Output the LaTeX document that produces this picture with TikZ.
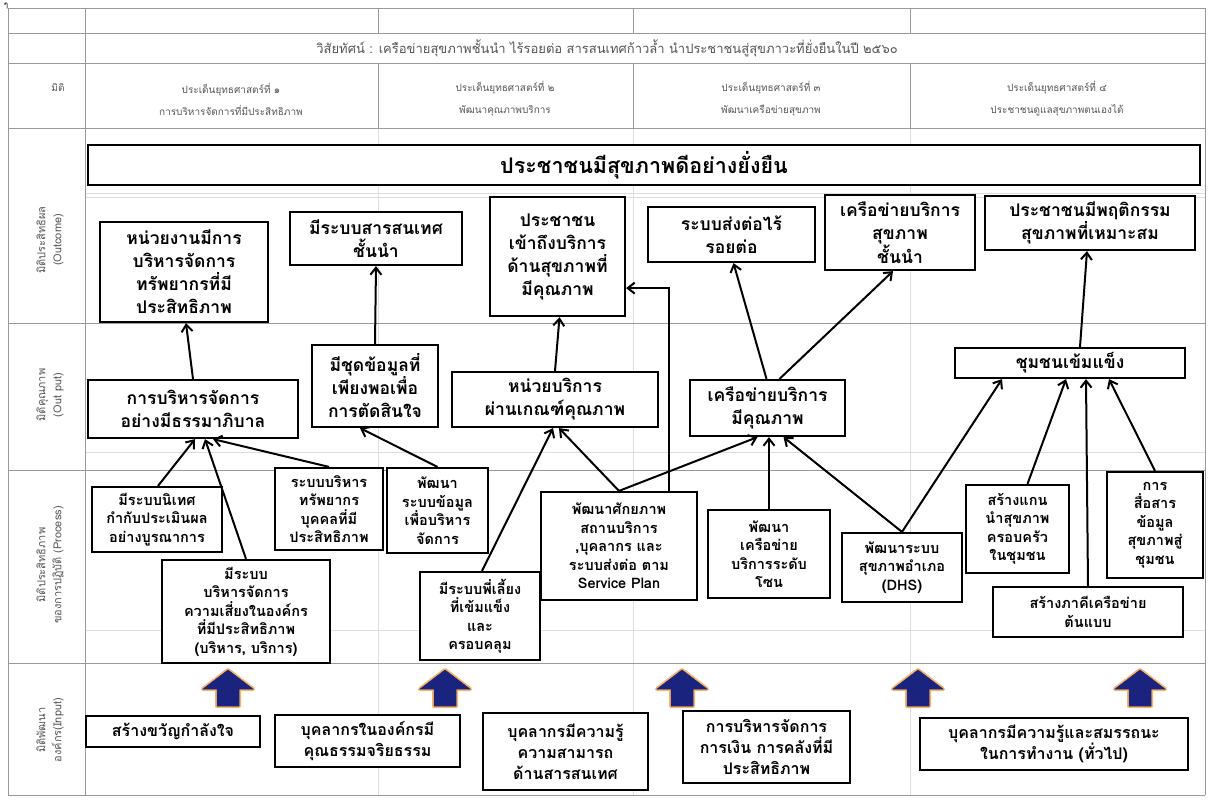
\documentclass[tikz,border=0pt]{standalone}
\usepackage{fontspec}
\newfontfamily\thai[Script=Thai]{Loma}
\usetikzlibrary{arrows.meta}
\definecolor{navy}{HTML}{1A237E}
\definecolor{gridc}{HTML}{9A9A9A}
\definecolor{faint}{HTML}{DDDDDD}
\definecolor{hdr}{HTML}{555555}
\definecolor{glow}{HTML}{F4A340}
\tikzset{
  box/.style={draw, line width=2.2pt, fill=white, align=center, inner sep=1pt, text=black},
  big/.style={box, font=\thai\bfseries\fontsize{17.5}{23}\selectfont},
  mid/.style={box, font=\thai\bfseries\fontsize{14.5}{18.5}\selectfont},
  inp/.style={box, font=\thai\bfseries\fontsize{16}{21}\selectfont},
  hdrtext/.style={align=center, text=hdr, font=\thai\fontsize{10}{22}\selectfont},
  rowlab/.style={align=center, text=hdr, rotate=90, font=\thai\fontsize{11}{16}\selectfont},
  grid/.style={draw=gridc, line width=0.9pt},
  fgrid/.style={draw=faint, line width=0.8pt},
  arr/.style={line width=2pt, -{Straight Barb[length=7pt,width=11pt,line width=2pt]}},
  blockup/.pic={
    \path[draw=glow, line width=4pt, line join=round, opacity=0.8]
      (-11,18) -- (-11,1) -- (-25,1) -- (0,-18) -- (25,1) -- (11,1) -- (11,18) -- cycle;
    \path[fill=navy, draw=navy, line width=0.5pt]
      (-11,18) -- (-11,1) -- (-25,1) -- (0,-18) -- (25,1) -- (11,1) -- (11,18) -- cycle;
  }
}
\begin{document}
\begin{tikzpicture}[x=1pt,y=-1pt]
\useasboundingbox (0,0) rectangle (1210,801);
\fill[white] (0,0) rectangle (1210,801);

% faint grid
\foreach \yy in {193,197,452,630} \draw[fgrid] (85,\yy) -- (1205,\yy);
\foreach \xx in {378,633,910} \draw[fgrid] (\xx,128) -- (\xx,795);
% main grid
\foreach \yy in {8,33,63,128,323,470,663,795} \draw[grid] (8,\yy) -- (1205,\yy);
\draw[grid] (8,8) -- (8,795);
\draw[grid] (85,8) -- (85,795);
\draw[grid] (1205,8) -- (1205,795);
\foreach \xx in {378,633,910} {\draw[grid] (\xx,8) -- (\xx,33); \draw[grid] (\xx,63) -- (\xx,128);}

\node[text=black, inner sep=0pt, font=\thai\fontsize{8}{8}\selectfont] (corner) at (6,6) {ๆ};

% header
\node[hdrtext, font=\thai\fontsize{13}{16}\selectfont] (vision) at (607,48) {วิสัยทัศน์ : เครือข่ายสุขภาพชั้นนำ ไร้รอยต่อ สารสนเทศก้าวล้ำ นำประชาชนสู่สุขภาวะที่ยั่งยืนในปี ๒๕๖๐};
\node[hdrtext] (miti) at (58,88) {มิติ};
\node[hdrtext] (h1) at (231,99) {ประเด็นยุทธศาสตร์ที่ ๑\\การบริหารจัดการที่มีประสิทธิภาพ};
\node[hdrtext] (h2) at (505,99) {ประเด็นยุทธศาสตร์ที่ ๒\\พัฒนาคุณภาพบริการ};
\node[hdrtext] (h3) at (771,99) {ประเด็นยุทธศาสตร์ที่ ๓\\พัฒนาเครือข่ายสุขภาพ};
\node[hdrtext] (h4) at (1057,99) {ประเด็นยุทธศาสตร์ที่ ๔\\ประชาชนดูแลสุขภาพตนเองได้};

% row labels
\node[rowlab] (r1) at (50,240) {มิติประสิทธิผล\\(Outcome)};
\node[rowlab] (r2) at (50,395) {มิติคุณภาพ\\(Out put)};
\node[rowlab] (r3) at (50,565) {มิติประสิทธิภาพ\\ของการปฏิบัติ (Process)};
\node[rowlab] (r4) at (50,730) {มิติพัฒนา\\องค์กร(Input)};

% top goal
\node[box, font=\thai\bfseries\fontsize{21.5}{24}\selectfont, minimum width=1112pt, minimum height=40pt] (goal) at (644,165) {ประชาชนมีสุขภาพดีอย่างยั่งยืน};

% outcome
\node[big, minimum width=168pt, minimum height=100pt] (o1) at (184,272) {หน่วยงานมีการ\\บริหารจัดการ\\ทรัพยากรที่มี\\ประสิทธิภาพ};
\node[big, minimum width=172pt, minimum height=53pt] (o2) at (376,238.5) {มีระบบสารสนเทศ\\ชั้นนำ};
\node[big, minimum width=135pt, minimum height=119pt, anchor=north] (o3) at (557.5,196) {ประชาชน\\เข้าถึงบริการ\\ด้านสุขภาพที่\\มีคุณภาพ};
\node[big, minimum width=167pt, minimum height=55pt] (o4) at (731.5,234.5) {ระบบส่งต่อไร้\\รอยต่อ};
\node[big, minimum width=150pt, minimum height=75pt] (o5) at (900,232.5) {เครือข่ายบริการ\\สุขภาพ\\ชั้นนำ};
\node[big, minimum width=210pt, minimum height=54pt] (o6) at (1090,223) {ประชาชนมีพฤติกรรม\\สุขภาพที่เหมาะสม};

% output
\node[big, minimum width=210pt, minimum height=58pt] (u1) at (193,409) {การบริหารจัดการ\\อย่างมีธรรมาภิบาล};
\node[big, minimum width=126pt, minimum height=82pt] (u2) at (375,386) {มีชุดข้อมูลที่\\เพียงพอเพื่อ\\การตัดสินใจ};
\node[big, minimum width=206pt, minimum height=55pt] (u3) at (555,399.5) {หน่วยบริการ\\ผ่านเกณฑ์คุณภาพ};
\node[big, minimum width=155pt, minimum height=56pt] (u4) at (767.5,408) {เครือข่ายบริการ\\มีคุณภาพ};
\node[big, minimum width=230pt, minimum height=30pt] (u5) at (1070,363) {ชุมชนเข้มแข็ง};

% process
\node[mid, minimum width=130pt, minimum height=65pt] (p1) at (157,519.5) {มีระบบนิเทศ\\กำกับประเมินผล\\อย่างบูรณาการ};
\node[mid, minimum width=168pt, minimum height=103pt] (p2) at (246,611.5) {มีระบบ\\บริหารจัดการ\\ความเสี่ยงในองค์กร\\ที่มีประสิทธิภาพ\\(บริหาร, บริการ)};
\node[mid, minimum width=108pt, minimum height=82pt] (p3) at (329,509) {ระบบบริหาร\\ทรัพยากร\\บุคคลที่มี\\ประสิทธิภาพ};
\node[mid, minimum width=101pt, minimum height=85pt] (p4) at (437.5,510.5) {พัฒนา\\ระบบข้อมูล\\เพื่อบริหาร\\จัดการ};
\node[mid, minimum width=120pt, minimum height=88pt] (p5) at (480,616) {มีระบบพี่เลี้ยง\\ที่เข้มแข็ง\\และ\\ครอบคลุม};
\node[mid, minimum width=156pt, minimum height=108pt] (p6) at (619,546) {พัฒนาศักยภาพ\\สถานบริการ\\,บุคลากร และ\\ระบบส่งต่อ ตาม\\Service Plan};
\node[mid, minimum width=122pt, minimum height=88pt] (p7) at (769,554) {พัฒนา\\เครือข่าย\\บริการระดับ\\โซน};
\node[mid, minimum width=120pt, minimum height=69pt] (p8) at (902,567.5) {พัฒนาระบบ\\สุขภาพอำเภอ\\(DHS)};
\node[mid, minimum width=103pt, minimum height=88pt] (p9) at (1017.5,529) {สร้างแกน\\นำสุขภาพ\\ครอบครัว\\ในชุมชน};
\node[mid, minimum width=190pt, minimum height=50pt] (p10) at (1088,612) {สร้างภาคีเครือข่าย\\ต้นแบบ};
\node[mid, minimum width=96pt, minimum height=106pt] (p11) at (1155,525) {การ\\สื่อสาร\\ข้อมูล\\สุขภาพสู่\\ชุมชน};

% input
\node[inp, minimum width=174pt, minimum height=31pt] (i1) at (173,731.5) {สร้างขวัญกำลังใจ};
\node[inp, minimum width=185pt, minimum height=52pt] (i2) at (367.5,741) {บุคลากรในองค์กรมี\\คุณธรรมจริยธรรม};
\node[inp, minimum width=165pt, minimum height=77pt] (i3) at (565.5,751.5) {บุคลากรมีความรู้\\ความสามารถ\\ด้านสารสนเทศ};
\node[inp, minimum width=167pt, minimum height=72pt] (i4) at (766.5,747) {การบริหารจัดการ\\การเงิน การคลังที่มี\\ประสิทธิภาพ};
\node[inp, minimum width=268pt, minimum height=52pt] (i5) at (1054,744) {บุคลากรมีความรู้และสมรรถนะ\\ในการทำงาน (ทั่วไป)};

% block arrows
\foreach \xx in {228,445,682,918,1140} \pic at (\xx,688) {blockup};

% output -> outcome
\draw[arr] (u1.north) -- ([xshift=2pt]o1.south);
\draw[arr] (u2.north) -- (o2.south);
\draw[arr] (u3.north) -- ([xshift=2pt]o3.south);
\draw[arr] ([xshift=-1pt]u4.north) -- ([xshift=2pt]o4.south);
\draw[arr] ([xshift=12pt]u4.north) -- ([xshift=-7pt]o5.south);
\draw[arr] ([xshift=10pt]u5.north) -- ([xshift=-3pt]o6.south);
\draw[arr] ([xshift=50pt]p6.north) |- ([yshift=-31.5pt]o3.east);

% process -> output
\draw[arr] ([xshift=1pt]p1.north) -- ([xshift=2pt]u1.south);
\draw[arr] (p2.north) -- ([xshift=12pt]u1.south);
\draw[arr] (p3.north) -- ([xshift=20pt]u1.south);
\draw[arr] (p4.north) -- ([xshift=-15pt]u2.south);
\draw[arr] ([xshift=2pt]p5.north) -- ([xshift=-2pt]u3.south);
\draw[arr] (p6.north) -- ([xshift=4pt]u3.south);
\draw[arr] (p6.north) -- ([xshift=-10pt]u4.south);
\draw[arr] (p7.north) -- ([xshift=1.5pt]u4.south);
\draw[arr] (p8.north) -- ([xshift=16pt]u4.south);
\draw[arr] (p8.north) -- ([xshift=-68pt]u5.south);
\draw[arr] ([xshift=10pt]p9.north) -- ([xshift=-4pt]u5.south);
\draw[arr] (p10.north) -- ([xshift=16pt]u5.south);
\draw[arr] (p11.north) -- ([xshift=39pt]u5.south);
\end{tikzpicture}
\end{document}
